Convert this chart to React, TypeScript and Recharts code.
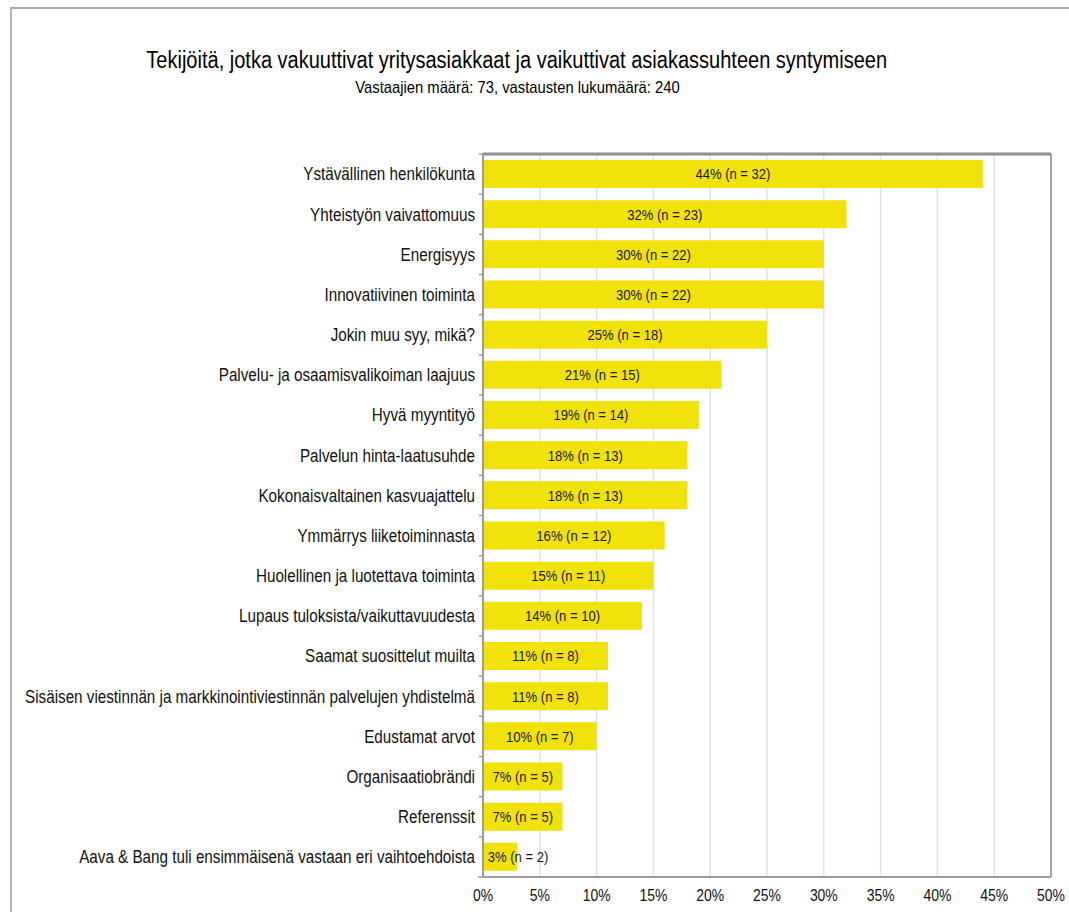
import { BarChart, Bar, XAxis, YAxis, CartesianGrid, LabelList, ReferenceLine } from "recharts";

const categories = [
  "Ystävällinen henkilökunta",
  "Yhteistyön vaivattomuus",
  "Energisyys",
  "Innovatiivinen toiminta",
  "Jokin muu syy, mikä?",
  "Palvelu- ja osaamisvalikoiman laajuus",
  "Hyvä myyntityö",
  "Palvelun hinta-laatusuhde",
  "Kokonaisvaltainen kasvuajattelu",
  "Ymmärrys liiketoiminnasta",
  "Huolellinen ja luotettava toiminta",
  "Lupaus tuloksista/vaikuttavuudesta",
  "Saamat suosittelut muilta",
  "Sisäisen viestinnän ja markkinointiviestinnän palvelujen yhdistelmä",
  "Edustamat arvot",
  "Organisaatiobrändi",
  "Referenssit",
  "Aava & Bang tuli ensimmäisenä vastaan eri vaihtoehdoista",
];
const percents = [44, 32, 30, 30, 25, 21, 19, 18, 18, 16, 15, 14, 11, 11, 10, 7, 7, 3];
const counts = [32, 23, 22, 22, 18, 15, 14, 13, 13, 12, 11, 10, 8, 8, 7, 5, 5, 2];
const xTicks = [0, 5, 10, 15, 20, 25, 30, 35, 40, 45, 50];

const title = "Tekijöitä, jotka vakuuttivat yritysasiakkaat ja vaikuttivat asiakassuhteen syntymiseen";
const subtitle = "Vastaajien määrä: 73, vastausten lukumäärä: 240";

// no Arial Narrow here, so squeeze Liberation Sans horizontally
const FONT = '"Liberation Sans", Arial, sans-serif';
const SQ = 0.87;
const BAR = "#f1e20c";
const AXIS = "#9c9c9c";

const W = 1069;
const H = 912;
const TOP = 154;
const BOTTOM_AXIS_H = 35;
const BAND = (H - TOP - BOTTOM_AXIS_H) / categories.length;

const data = categories.map((name, i) => ({ name, pct: percents[i], n: counts[i] }));

const NText = ({ x, y, anchor, size, fill = "#111", children }: any) => (
  <g transform={`translate(${x},${y}) scale(${SQ},1)`}>
    <text x={0} y={0} textAnchor={anchor} dominantBaseline="central" fontSize={size} fill={fill} fontFamily={FONT}>
      {children}
    </text>
  </g>
);

const CatTick = (props: any) => {
  const { x, y, payload, index } = props;
  const ax = x + 8;
  return (
    <g>
      <line x1={ax - 4} x2={ax} y1={y - BAND / 2} y2={y - BAND / 2} stroke={AXIS} strokeWidth={1.5} />
      {index === categories.length - 1 && (
        <line x1={ax - 5} x2={ax} y1={y + BAND / 2} y2={y + BAND / 2} stroke={AXIS} strokeWidth={1.5} />
      )}
      <NText x={x} y={y} anchor="end" size={17.5}>
        {payload.value}
      </NText>
    </g>
  );
};

const XTick = (props: any) => {
  const { x, y, payload } = props;
  return (
    <NText x={x} y={y + 8} anchor="middle" size={16}>
      {`${payload.value}%`}
    </NText>
  );
};

const ValueLabel = (props: any) => {
  const { x, y, width, height, index } = props;
  const cx = Math.max(x + width / 2, x + 35);
  return (
    <NText x={cx} y={y + height / 2} anchor="middle" size={15} fill="#1a1a1a">
      {`${percents[index]}% (n = ${counts[index]})`}
    </NText>
  );
};

export default function App() {
  return (
    <div style={{ position: "absolute", left: 0, top: 0, width: W, height: H, background: "#fff", overflow: "hidden" }}>
      <div style={{ position: "absolute", left: 10, top: 7, right: -4, bottom: -4, borderTop: "2px solid #a8a8a8", borderLeft: "2px solid #b4b4b4" }} />
      <div style={{ position: "absolute", left: 0, width: 1034, top: 45, textAlign: "center", lineHeight: "30px" }}>
        <span style={{ display: "inline-block", transform: `scaleX(${SQ})`, fontFamily: FONT, fontSize: 23, color: "#000", whiteSpace: "nowrap" }}>
          {title}
        </span>
      </div>
      <div style={{ position: "absolute", left: 0, width: 1035, top: 77, textAlign: "center", lineHeight: "22px" }}>
        <span style={{ display: "inline-block", transform: `scaleX(${SQ})`, fontFamily: FONT, fontSize: 17, color: "#000", whiteSpace: "nowrap" }}>
          {subtitle}
        </span>
      </div>
      <div style={{ position: "absolute", left: 0, top: 0 }}>
        <BarChart width={W} height={H} data={data} layout="vertical" margin={{ top: TOP - 1, right: 18, bottom: 0, left: 0 }}>
          <CartesianGrid horizontal={false} stroke="#e2e2e2" strokeWidth={1.5} />
          <XAxis
            type="number"
            domain={[0, 50]}
            ticks={xTicks}
            tickLine={false}
            tickMargin={4}
            height={BOTTOM_AXIS_H}
            axisLine={{ stroke: AXIS, strokeWidth: 2 }}
            tick={<XTick />}
            interval={0}
          />
          <XAxis
            xAxisId="top"
            orientation="top"
            type="number"
            domain={[0, 50]}
            ticks={xTicks}
            tick={false}
            tickSize={6}
            tickLine={{ stroke: AXIS, strokeWidth: 1.5 }}
            height={1}
            axisLine={{ stroke: "#8e8e8e", strokeWidth: 3 }}
            interval={0}
          />
          <YAxis
            type="category"
            dataKey="name"
            width={483}
            interval={0}
            tickLine={false}
            tick={<CatTick />}
            axisLine={{ stroke: AXIS, strokeWidth: 2 }}
          />
          <ReferenceLine x={50} stroke="#a4a4a4" strokeWidth={2} />
          <Bar dataKey="pct" fill={BAR} barSize={28} isAnimationActive={false}>
            <LabelList dataKey="pct" content={<ValueLabel />} />
          </Bar>
        </BarChart>
      </div>
    </div>
  );
}
